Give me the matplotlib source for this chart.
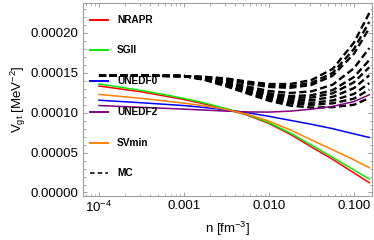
import numpy as np
import matplotlib
matplotlib.use("Agg")
import matplotlib.pyplot as plt

plt.rcParams['font.family'] = ['Liberation Sans', 'DejaVu Sans']
plt.rcParams['mathtext.fontset'] = 'custom'
plt.rcParams['mathtext.rm'] = 'Liberation Sans'
plt.rcParams['mathtext.it'] = 'Liberation Sans:italic'
plt.rcParams['mathtext.bf'] = 'Liberation Sans:bold'

# density grid (log10 n, fm^-3)
log_n = [-4.0, -3.5, -3.0, -2.75, -2.5, -2.25, -2.0, -1.75, -1.5, -1.25, -1.0, -0.82]

# V_gt in units of 1e-4 MeV^-2
nrapr = [1.335, 1.262, 1.166, 1.108, 1.044, 0.968, 0.865, 0.730, 0.570, 0.415, 0.245, 0.123]
sgii = [1.360, 1.280, 1.180, 1.120, 1.050, 0.975, 0.875, 0.745, 0.595, 0.440, 0.283, 0.169]
unedf0 = [1.157, 1.125, 1.090, 1.065, 1.035, 1.000, 0.955, 0.905, 0.855, 0.800, 0.735, 0.690]
unedf2 = [1.090, 1.068, 1.045, 1.033, 1.020, 1.010, 1.008, 1.020, 1.045, 1.080, 1.140, 1.225]
svmin = [1.230, 1.180, 1.120, 1.085, 1.040, 0.980, 0.895, 0.785, 0.660, 0.535, 0.410, 0.310]

mc = [
    [1.465, 1.465, 1.46, 1.450, 1.430, 1.390, 1.360, 1.360, 1.410, 1.550, 1.880, 2.25],
    [1.465, 1.465, 1.46, 1.446, 1.420, 1.375, 1.338, 1.332, 1.374, 1.500, 1.800, 2.14],
    [1.465, 1.465, 1.46, 1.443, 1.412, 1.363, 1.323, 1.312, 1.349, 1.465, 1.740, 2.06],
    [1.465, 1.465, 1.46, 1.433, 1.389, 1.328, 1.273, 1.248, 1.268, 1.352, 1.558, 1.81],
    [1.465, 1.465, 1.46, 1.428, 1.375, 1.307, 1.244, 1.210, 1.219, 1.284, 1.448, 1.66],
    [1.465, 1.465, 1.46, 1.424, 1.366, 1.294, 1.226, 1.188, 1.190, 1.244, 1.382, 1.57],
    [1.465, 1.465, 1.46, 1.421, 1.357, 1.280, 1.206, 1.162, 1.157, 1.199, 1.309, 1.47],
    [1.465, 1.465, 1.46, 1.417, 1.347, 1.266, 1.187, 1.137, 1.125, 1.154, 1.236, 1.37],
    [1.465, 1.465, 1.46, 1.414, 1.340, 1.255, 1.171, 1.117, 1.099, 1.118, 1.177, 1.29],
    [1.465, 1.465, 1.46, 1.410, 1.330, 1.240, 1.150, 1.090, 1.065, 1.070, 1.100, 1.185],
]

names = ['NRAPR', 'SGII', 'UNEDF0', 'UNEDF2', 'SVmin']
series = [nrapr, sgii, unedf0, unedf2, svmin]
colors = ['#ff0000', '#00ee00', '#0000ff', '#800080', '#ff8000']

y_ticks = [0.0, 0.00005, 0.00010, 0.00015, 0.00020]
x_ticks = [1e-4, 1e-3, 1e-2, 1e-1]
x_ticklabels = ['$10^{-4}$', '0.001', '0.010', '0.100']

n = 10.0 ** np.array(log_n)
scale = 1e-4

fig = plt.figure(figsize=(3.74, 2.40), dpi=100)
ax = fig.add_axes([83/374, 1-196/240, (372-83)/374, (196-3)/240])

for curve in mc:
    ax.plot(n, np.array(curve) * scale, color='black', lw=1.7,
            dashes=(3.0, 1.5), zorder=2)
for vals, c in zip(series, colors):
    ax.plot(n, np.array(vals) * scale, color=c, lw=1.1, zorder=3)

ax.set_xscale('log')
ax.set_xlim(10**-4.188, 10**-0.788)
ax.set_ylim(-0.0000044, 0.0002376)
ax.set_xticks(x_ticks)
ax.set_xticklabels(x_ticklabels)
ax.set_yticks(y_ticks)
ax.set_yticklabels(['%.5f' % v for v in y_ticks])
ax.yaxis.set_minor_locator(matplotlib.ticker.MultipleLocator(0.00001))
ax.xaxis.set_minor_locator(matplotlib.ticker.LogLocator(base=10, subs=np.arange(2, 10)))
ax.xaxis.set_minor_formatter(matplotlib.ticker.NullFormatter())

grey = '#a0a0a0'
for s in ax.spines.values():
    s.set_color(grey)
    s.set_linewidth(0.8)
ax.tick_params(which='both', direction='in', top=True, right=True, color=grey,
               labelsize=9.5, labelcolor='black')
ax.tick_params(which='major', length=3.2, width=0.7, pad=3)
ax.tick_params(which='minor', length=1.8, width=0.6)

ax.set_ylabel(r'$\mathregular{V_{gt}}$ [MeV$^{-2}$]', fontsize=9.5, labelpad=2)
ax.set_xlabel(r'n [fm$^{-3}$]', fontsize=9.5, labelpad=3)

# legend inside the frame
leg_names = names + ['MC']
leg_colors = colors + ['black']
leg_y = [0.912, 0.756, 0.596, 0.435, 0.275, 0.119]
for name, c, yy in zip(leg_names, leg_colors, leg_y):
    if name == 'MC':
        ax.plot([0.024, 0.0865], [yy, yy], transform=ax.transAxes, color=c,
                lw=1.1, dashes=(3, 2), clip_on=False)
    else:
        ax.plot([0.024, 0.0865], [yy, yy], transform=ax.transAxes, color=c,
                lw=1.4, clip_on=False)
    ax.text(0.1176, yy, name, transform=ax.transAxes, fontsize=7.3,
            fontweight='bold', va='center', ha='left')

fig.savefig('out.png', dpi=100)
